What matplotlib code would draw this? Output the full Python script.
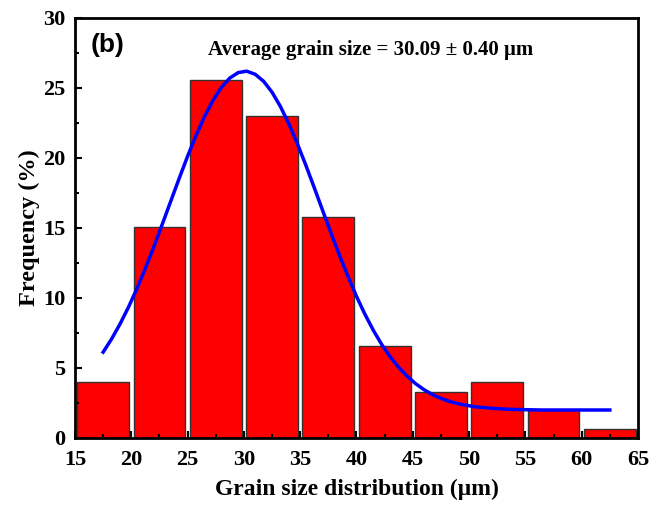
import matplotlib
matplotlib.use("Agg")
import matplotlib.pyplot as plt
from matplotlib.ticker import MultipleLocator

# Histogram bins (centres, um) and frequencies (%)
bin_mid = [17.5, 22.5, 27.5, 32.5, 37.5, 42.5, 47.5, 52.5, 57.5, 62.5]
freq = [4.0, 15.1, 25.6, 23.0, 15.8, 6.6, 3.3, 4.0, 2.0, 0.65]

# Fitted curve, points
curve_x = [17.5, 18.25, 19.0, 19.75, 20.5, 21.25, 22.0, 22.75, 23.5, 24.25,
           25.0, 25.75, 26.5, 27.25, 28.0, 28.75, 29.5, 30.25, 31.0, 31.75,
           32.5, 33.25, 34.0, 34.75, 35.5, 36.25, 37.0, 37.75, 38.5, 39.25,
           40.0, 40.75, 41.5, 42.25, 43.0, 43.75, 44.5, 45.25, 46.0, 46.75,
           47.5, 48.25, 49.0, 50.5, 52.0, 53.5, 55.0, 56.5, 58.0, 59.5,
           61.0, 62.5]
curve_y = [6.13, 7.07, 8.14, 9.34, 10.67, 12.12, 13.65, 15.26, 16.9, 18.53,
           20.12, 21.6, 22.95, 24.11, 25.04, 25.71, 26.1, 26.2, 25.98, 25.48,
           24.7, 23.67, 22.43, 21.02, 19.49, 17.88, 16.24, 14.61, 13.03, 11.53,
           10.12, 8.84, 7.69, 6.67, 5.79, 5.04, 4.41, 3.88, 3.45, 3.1,
           2.83, 2.62, 2.45, 2.23, 2.12, 2.05, 2.02, 2.0, 2.0, 2.0,
           2.0, 2.0]

serif = ["Liberation Serif", "DejaVu Serif"]

fig = plt.figure(figsize=(6.6, 5.05), dpi=100)
ax = fig.add_axes([0.1136, 0.1327, 0.853, 0.8317])

ax.bar(bin_mid, freq, width=4.6, color="#ff0000",
       edgecolor="#333333", linewidth=1.0)
ax.plot(curve_x, curve_y, color="#0000ff", linewidth=2.5)

ax.set_xlim(15, 65)
ax.set_ylim(0, 30)
ax.xaxis.set_major_locator(MultipleLocator(5))
ax.xaxis.set_minor_locator(MultipleLocator(2.5))
ax.yaxis.set_major_locator(MultipleLocator(5))
ax.yaxis.set_minor_locator(MultipleLocator(2.5))
ax.tick_params(which="both", direction="in", width=1.5)
ax.tick_params(which="major", length=5)
ax.tick_params(which="minor", length=3)
ax.tick_params(axis="x", which="major", pad=9)
ax.tick_params(axis="y", which="major", pad=7)
for s in ax.spines.values():
    s.set_linewidth(2)

for lab in ax.get_xticklabels() + ax.get_yticklabels():
    lab.set_family(serif)
    lab.set_fontweight("bold")
    lab.set_fontsize(16)

ax.set_xlabel("Grain size distribution (\u03bcm)", family=serif,
              fontweight="bold", fontsize=17, labelpad=6)
ax.set_ylabel("Frequency (%)", family=serif, fontweight="bold", fontsize=17.5,
              labelpad=2)

ax.text(0.028, 0.965, "(b)", transform=ax.transAxes, family="Liberation Sans",
        fontweight="bold", fontsize=19, va="top", ha="left")
ax.text(0.526, 0.924, "Average grain size = 30.09 \u00b1 0.40 \u03bcm",
        transform=ax.transAxes, family=serif, fontweight="bold",
        fontsize=15, va="center", ha="center")

fig.savefig("out.png", dpi=100)
